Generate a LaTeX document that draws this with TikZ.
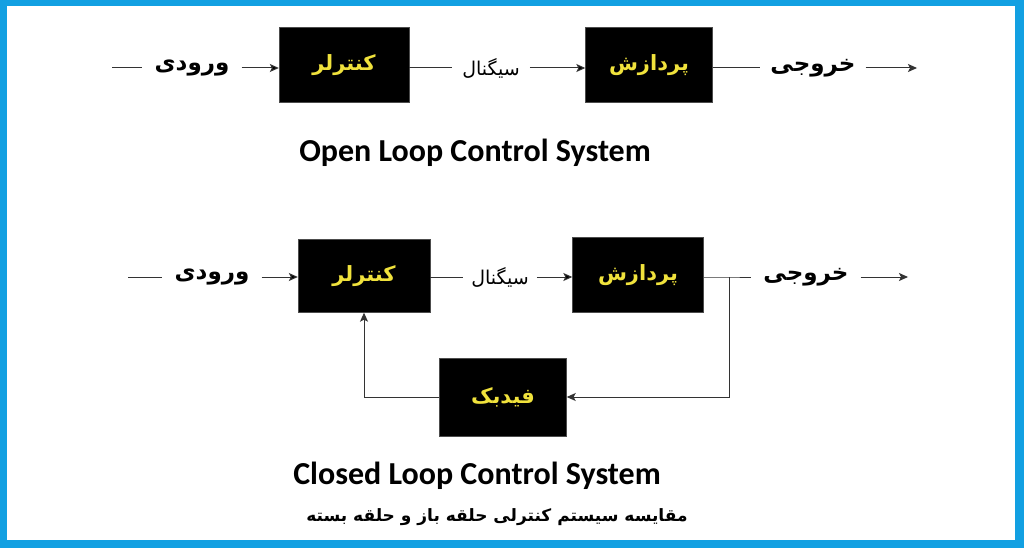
\documentclass[tikz,border=0pt]{standalone}
\usepackage{fontspec}
\setmainfont{Carlito}
\newfontfamily\fa[Script=Arabic]{DejaVu Sans}
\TeXXeTstate=1
\usetikzlibrary{arrows.meta}
\definecolor{frameblue}{RGB}{18,160,226}
\definecolor{boxyel}{RGB}{240,226,60}
\tikzset{blk/.style={rectangle,fill=black,draw=black!70,minimum width=130pt,minimum height=75pt,text=boxyel,font=\fa\bfseries\fontsize{21}{24}\selectfont},
lbl/.style={inner xsep=12pt,font=\fa\bfseries\fontsize{23}{26}\selectfont},
sig/.style={inner xsep=10pt,font=\fa\fontsize{19}{22}\selectfont},
ttl/.style={font=\bfseries\fontsize{32}{36}\selectfont},
wire/.style={draw=black!80,line width=1pt}}

\begin{document}
\begin{tikzpicture}[x=1pt,y=-1pt,>={Stealth[length=9pt,width=8pt,inset=2pt]}]
    \fill[frameblue] (0,0) rectangle (1024,548);
    \fill[white] (7,6) rectangle (1015,540);
    \useasboundingbox (0,0) rectangle (1024,548);

    \coordinate (oin) at (112,68);
    \node[lbl] (oinl) at (192,68) {\beginR ورودی\endR};
    \node[blk] (octrl) at (344,65) {\beginR کنترلر\endR};
    \node[sig] (osig) at (491,68) {\beginR سیگنال\endR};
    \node[blk,minimum width=127pt] (oproc) at (649,65) {\beginR پردازش\endR};
    \node[lbl,inner xsep=10pt] (oout) at (813,68) {\beginR خروجی\endR};
    \coordinate (oend) at (917,68);
    \node[ttl] (otitle) at (475,153) {Open Loop Control System};

    \coordinate (cin) at (128,277);
    \node[lbl] (cinl) at (212,277) {\beginR ورودی\endR};
    \node[blk,minimum width=132pt,minimum height=73pt] (cctrl) at (364,276) {\beginR کنترلر\endR};
    \node[sig,inner xsep=8pt] (csig) at (500,277) {\beginR سیگنال\endR};
    \node[blk,minimum width=131pt] (cproc) at (638,275) {\beginR پردازش\endR};
    \coordinate (tap) at (729,277);
    \node[lbl] (cout) at (806,277) {\beginR خروجی\endR};
    \coordinate (cend) at (908,277);
    \node[blk,minimum width=127pt,minimum height=78pt] (cfb) at (503,397) {\beginR فیدبک\endR};
    \node[ttl] (ctitle) at (477,476) {Closed Loop Control System};
    \node[font=\fa\bfseries\fontsize{17}{22}\selectfont] (csub) at (497,517) {\beginR مقایسه سیستم کنترلی حلقه باز و حلقه بسته\endR};

    \draw[wire] (oin) -- (oinl) (octrl.east |- osig) -- (osig) (oproc.east |- oout) -- (oout);
    \draw[wire,->] (oinl) edge (octrl.west |- oinl) (osig) edge (oproc.west |- osig) (oout) -- (oend);
    \draw[wire] (cin) -- (cinl) (cctrl.east |- csig) -- (csig) (cproc.east |- tap) -- (tap) -- (cout);
    \draw[wire,->] (cinl) edge (cctrl.west |- cinl) (csig) edge (cproc.west |- csig) (cout) -- (cend);
    \draw[wire,->] (tap) |- (cfb);
    \draw[wire,->] (cfb) -| (cctrl);
\end{tikzpicture}
\end{document}
